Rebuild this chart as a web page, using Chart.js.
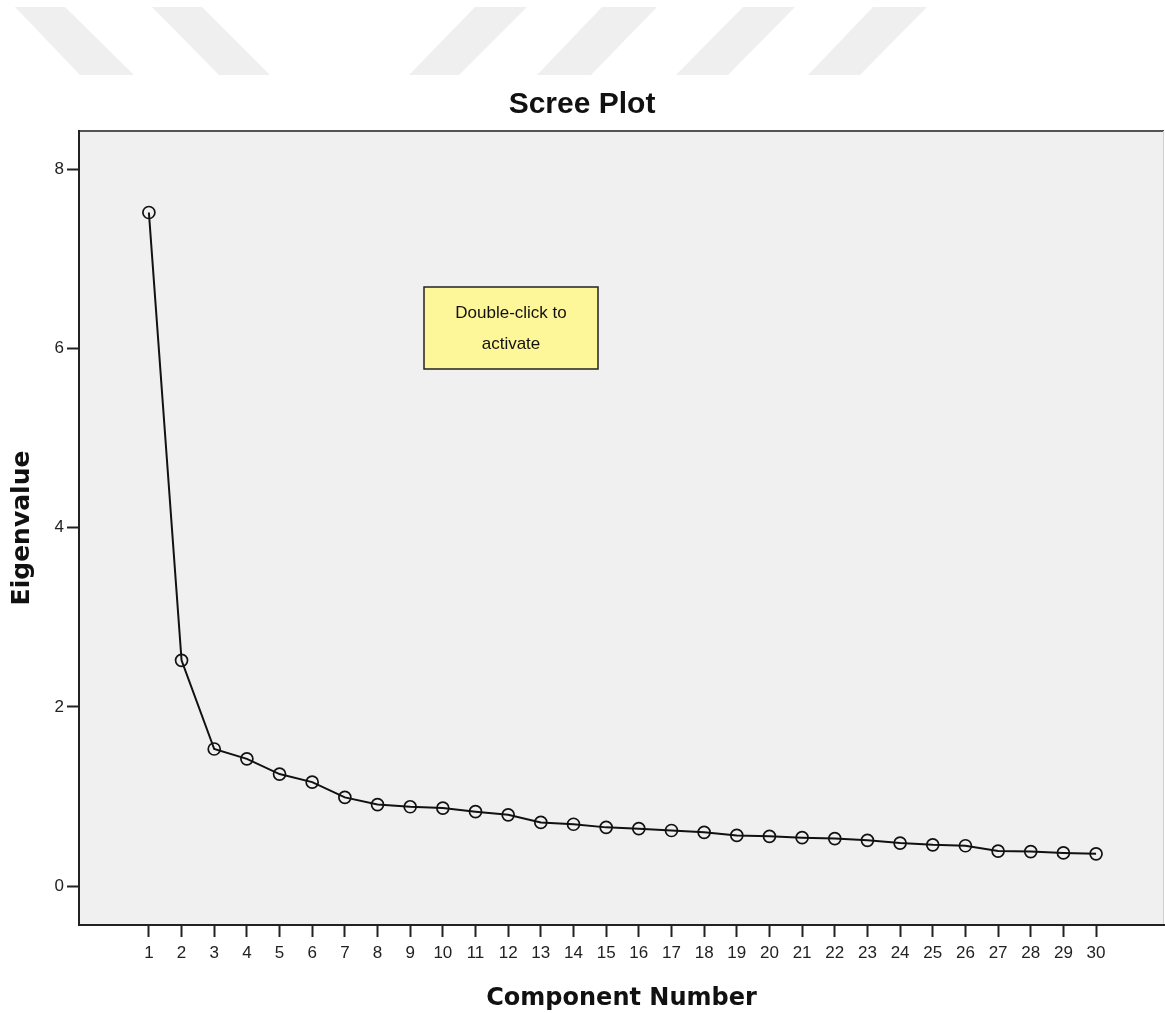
<!DOCTYPE html>
<html>
<head>
<meta charset="utf-8">
<title>Scree Plot</title>
<script src="https://cdn.jsdelivr.net/npm/chart.js@4.4.1/dist/chart.umd.min.js"></script>
<style>
    body { margin: 0; background: #ffffff; }
    #wrap { width: 1165px; height: 1013px; }
</style>
</head>
<body>
<div id="wrap"><canvas id="screeChart" width="1165" height="1013"></canvas></div>
<script>
// Scree plot data
const components = [1, 2, 3, 4, 5, 6, 7, 8, 9, 10, 11, 12, 13, 14, 15,
    16, 17, 18, 19, 20, 21, 22, 23, 24, 25, 26, 27, 28, 29, 30];
const eigenvalues = [7.52, 2.52, 1.53, 1.42, 1.25, 1.16, 0.99, 0.91, 0.885, 0.87,
    0.83, 0.795, 0.71, 0.69, 0.655, 0.64, 0.62, 0.60, 0.565, 0.555,
    0.54, 0.53, 0.51, 0.48, 0.46, 0.45, 0.39, 0.385, 0.37, 0.36];
const yTicks = [0, 2, 4, 6, 8];

// Plot background, faded watermark stripes and the frame
const backgroundPlugin = {
    id: 'backgroundPlugin',
    beforeDraw(chart) {
        const ctx = chart.ctx;
        const a = chart.chartArea;
        ctx.save();

        // watermark stripes at the top
        const stripes = [
            [15, 65, 134, 80], [152, 202, 270, 219],
            [475, 527, 459, 409], [602, 657, 591, 537],
            [743, 795, 728, 676], [873, 927, 860, 808]
        ];
        ctx.fillStyle = '#efefef';
        stripes.forEach(s => {
            ctx.beginPath();
            ctx.moveTo(s[0], 7);
            ctx.lineTo(s[1], 7);
            ctx.lineTo(s[2], 75);
            ctx.lineTo(s[3], 75);
            ctx.closePath();
            ctx.fill();
        });

        ctx.fillStyle = '#f0f0f0';
        ctx.fillRect(a.left, a.top, a.right - a.left, a.bottom - a.top);

        ctx.strokeStyle = '#555555';
        ctx.lineWidth = 2;
        ctx.beginPath();
        ctx.moveTo(a.left, a.top);
        ctx.lineTo(a.right, a.top);
        ctx.stroke();

        ctx.strokeStyle = '#d0d0d0';
        ctx.lineWidth = 1;
        ctx.beginPath();
        ctx.moveTo(a.right - 0.5, a.top);
        ctx.lineTo(a.right - 0.5, a.bottom);
        ctx.stroke();
        ctx.restore();
    }
};

// "Double-click to activate" note
const notePlugin = {
    id: 'notePlugin',
    afterDraw(chart) {
        const ctx = chart.ctx;
        ctx.save();
        ctx.fillStyle = '#fdf799';
        ctx.fillRect(424, 287, 174, 82);
        ctx.strokeStyle = '#222222';
        ctx.lineWidth = 1.5;
        ctx.strokeRect(424, 287, 174, 82);
        ctx.fillStyle = '#111111';
        ctx.font = '17px "Liberation Sans", Arial, sans-serif';
        ctx.textAlign = 'center';
        ctx.textBaseline = 'middle';
        ctx.fillText('Double-click to', 511, 313);
        ctx.fillText('activate', 511, 344);
        ctx.restore();
    }
};

new Chart(document.getElementById('screeChart'), {
    type: 'line',
    data: {
        datasets: [{
            label: 'Eigenvalue',
            data: components.map((c, i) => ({ x: c, y: eigenvalues[i] })),
            borderColor: '#111111',
            borderWidth: 2,
            pointRadius: 6,
            pointBorderWidth: 1.7,
            pointBorderColor: '#111111',
            pointBackgroundColor: 'rgba(0,0,0,0)',
            tension: 0
        }]
    },
    options: {
        responsive: false,
        animation: false,
        layout: { autoPadding: false, padding: { top: 0, left: 0, right: 1, bottom: 0 } },
        plugins: {
            legend: { display: false },
            tooltip: { enabled: false },
            title: {
                display: true,
                text: 'Scree Plot',
                color: '#111111',
                font: { family: '"Liberation Sans", Arial, sans-serif', size: 30, weight: 'bold' },
                padding: { top: 87, bottom: 8 }
            }
        },
        scales: {
            x: {
                type: 'linear',
                min: -1.14,
                max: 32.08,
                afterBuildTicks: scale => { scale.ticks = components.map(v => ({ value: v })); },
                afterFit: scale => {
                    scale.height = 88;
                    scale.paddingLeft = 0;
                    scale.paddingRight = 0;
                },
                grid: { drawOnChartArea: false, tickLength: 12, tickColor: '#222222', tickWidth: 2 },
                border: { display: true, color: '#222222', width: 2 },
                ticks: {
                    autoSkip: false,
                    maxRotation: 0,
                    padding: 6,
                    color: '#222222',
                    font: { family: '"Liberation Sans", Arial, sans-serif', size: 17 }
                },
                title: {
                    display: true,
                    text: 'Component Number',
                    color: '#111111',
                    font: { family: '"DejaVu Sans", sans-serif', size: 24, weight: 'bold' },
                    padding: { top: 0, bottom: 0 }
                }
            },
            y: {
                min: -0.435,
                max: 8.43,
                afterBuildTicks: scale => { scale.ticks = yTicks.map(v => ({ value: v })); },
                afterFit: scale => {
                    scale.width = 79;
                    scale.paddingTop = 0;
                    scale.paddingBottom = 0;
                },
                grid: { drawOnChartArea: false, tickLength: 12, tickColor: '#222222', tickWidth: 2 },
                border: { display: true, color: '#222222', width: 2 },
                ticks: {
                    padding: 3,
                    color: '#222222',
                    font: { family: '"Liberation Sans", Arial, sans-serif', size: 17 }
                },
                title: {
                    display: true,
                    text: 'Eigenvalue',
                    color: '#111111',
                    font: { family: '"DejaVu Sans", sans-serif', size: 25, weight: 'bold' },
                    padding: { top: 7, bottom: 0 }
                }
            }
        }
    },
    plugins: [backgroundPlugin, notePlugin]
});
</script>
</body>
</html>
